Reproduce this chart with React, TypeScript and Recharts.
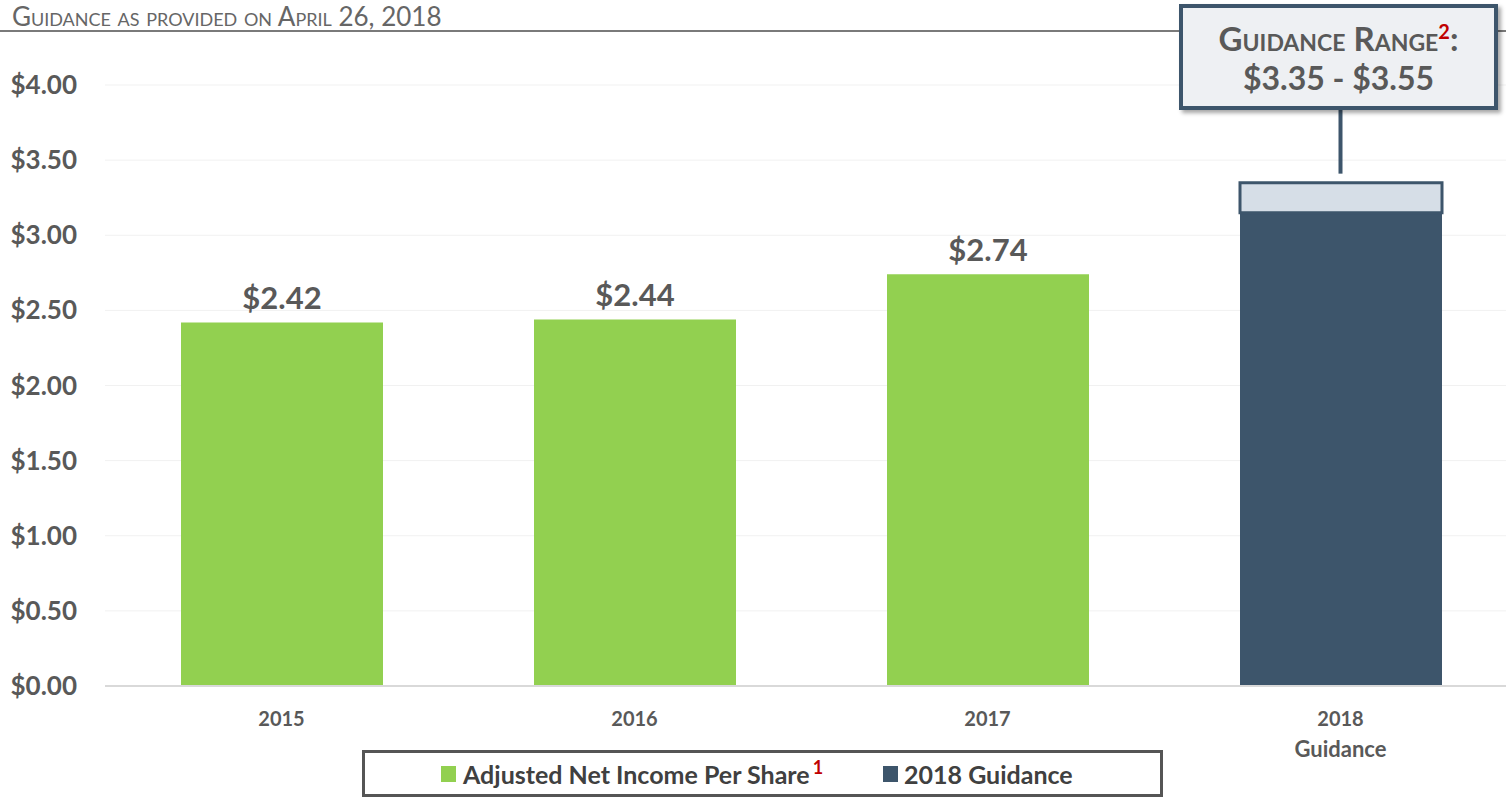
import React from 'react';
import {
  BarChart, Bar, XAxis, YAxis, CartesianGrid, LabelList, ReferenceLine,
} from 'recharts';

const categories = ['2015', '2016', '2017', '2018\nGuidance'];
const adjustedEps = [2.42, 2.44, 2.74, null];
const guidanceBase = [null, null, null, 3.15];
const guidanceRange = [null, null, null, 0.2];
const yTicks = [0, 0.5, 1, 1.5, 2, 2.5, 3, 3.5, 4];

const data = categories.map((name, i) => ({
  name,
  eps: adjustedEps[i],
  base: guidanceBase[i],
  range: guidanceRange[i],
}));

const FONT = 'Lato, "Open Sans", sans-serif';
const GREEN = '#92d050';
const NAVY = '#3d556b';
const LIGHT = '#d6dee7';
const TEXT = '#595959';

const YTick = ({ y, payload }: any) => (
  <text x={77} y={y} dy={9} textAnchor="end" fontFamily={FONT} fontWeight={700} fontSize={26} fill={TEXT}>
    ${payload.value.toFixed(2)}
  </text>
);

const XTick = ({ x, payload }: any) => {
  const lines = String(payload.value).split('\n');
  return (
    <text x={x} y={726} textAnchor="middle" fontFamily={FONT} fontWeight={700} fontSize={20} fill={TEXT}>
      {lines.map((l: string, i: number) => (
        <tspan key={i} x={x} dy={i === 0 ? 0 : 31} fontSize={i === 0 ? 20 : 22}>{l}</tspan>
      ))}
    </text>
  );
};

export default function App() {
  return (
    <div style={{ position: 'absolute', left: 0, top: 0, width: 1506, height: 798, overflow: 'hidden', background: '#fff', fontFamily: FONT }}>
      {/* header */}
      <div style={{ position: 'absolute', left: 12, top: 0, fontSize: 26, color: '#666', fontVariant: 'small-caps', lineHeight: 'normal', whiteSpace: 'nowrap' }}>
        Guidance as provided on April 26, 2018
      </div>
      <div style={{ position: 'absolute', left: 0, top: 30, width: 1506, height: 2, background: '#7a7a7a' }} />

      <div style={{ position: 'absolute', left: 0, top: 0 }}>
        <BarChart width={1517} height={798} data={data} margin={{ top: 85, right: 0, left: 0, bottom: 0 }} barSize={202}>
          <CartesianGrid vertical={false} stroke="#f1f1f1" />
          <XAxis dataKey="name" height={112} axisLine={{ stroke: '#d9d9d9', strokeWidth: 2 }} tickLine={false} tick={<XTick />} interval={0} />
          <YAxis width={105} domain={[0, 4]} ticks={yTicks} axisLine={false} tickLine={false} tick={<YTick />} />
          <Bar dataKey="eps" stackId="s" fill={GREEN} isAnimationActive={false}>
            <LabelList dataKey="eps" position="top" offset={13} formatter={(v: any) => (v == null ? '' : `$${Number(v).toFixed(2)}`)}
              style={{ fontFamily: FONT, fontWeight: 700, fontSize: 31, fill: TEXT }} />
          </Bar>
          <Bar dataKey="base" stackId="s" fill={NAVY} isAnimationActive={false} />
          <Bar dataKey="range" stackId="s" fill={LIGHT} stroke={NAVY} strokeWidth={3} isAnimationActive={false} />
          <ReferenceLine segment={[{ x: '2018\nGuidance', y: 3.41 }, { x: '2018\nGuidance', y: 3.85 }]} stroke={NAVY} strokeWidth={4} ifOverflow="visible" />
        </BarChart>
      </div>

      {/* guidance callout */}
      <div style={{ position: 'absolute', left: 1179, top: 4, width: 311, height: 98, border: `4px solid ${NAVY}`, background: '#eef0f3', boxShadow: '3px 3px 4px rgba(0,0,0,0.35)', textAlign: 'center', color: TEXT, fontWeight: 700, whiteSpace: 'nowrap' }}>
        <div style={{ fontSize: 33, fontVariant: 'small-caps', lineHeight: '34px', marginTop: 13 }}>
          Guidance Range<sup style={{ color: '#c00000', fontSize: 20, lineHeight: 0 }}>2</sup>:
        </div>
        <div style={{ fontSize: 32, lineHeight: '36px', marginTop: 5 }}>$3.35 - $3.55</div>
      </div>

      {/* legend */}
      <div style={{ position: 'absolute', left: 362, top: 750, width: 795, height: 41, border: '3px solid #555', background: '#fff', display: 'flex', alignItems: 'center', color: '#404040', fontWeight: 700, fontSize: 25, whiteSpace: 'nowrap' }}>
        <span style={{ display: 'inline-block', width: 15, height: 16, background: GREEN, marginLeft: 76, marginRight: 7 }} />
        <span>Adjusted Net Income Per Share<sup style={{ color: '#c00000', fontSize: 18, lineHeight: 0, marginLeft: 3 }}>1</sup></span>
        <span style={{ display: 'inline-block', width: 15, height: 16, background: NAVY, marginLeft: 60, marginRight: 6 }} />
        <span>2018 Guidance</span>
      </div>
    </div>
  );
}
